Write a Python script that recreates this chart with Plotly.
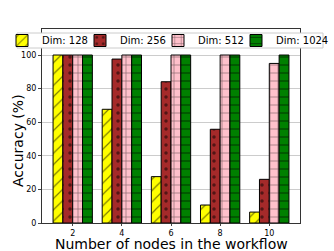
import plotly.graph_objects as go

nodes = [2, 4, 6, 8, 10]
dim128 = [100, 67.7, 27.6, 10.7, 6.5]
dim256 = [100, 97.6, 84.1, 55.8, 26.0]
dim512 = [100, 100, 100, 100, 95.0]
dim1024 = [100, 100, 100, 100, 100]

series = [
    ("Dim: 128", dim128, "#ffff00", "/"),
    ("Dim: 256", dim256, "#a52a2a", "."),
    ("Dim: 512", dim512, "#ffc0cb", "+"),
    ("Dim: 1024", dim1024, "#008000", "-"),
]

# pixel geometry helpers (plot area: x 42..300, y 29..223 ; value 0 at y=223)
L, R, B = 42, 300, 223
PW, PH = R - L, 194
def px(x):
    return (x - L) / PW
def py(y):
    return (B - y) / PH

legend_text_x = [40, 118, 196, 274]

fig = go.Figure()
layout_legends = {}
for i, (name, vals, col, shape) in enumerate(series):
    lname = "legend" if i == 0 else f"legend{i+1}"
    fig.add_trace(go.Bar(
        x=nodes, y=vals, name=name, legend=lname,
        marker=dict(color=col, line=dict(color="black", width=1),
                    pattern=dict(shape=shape, fgcolor="black", bgcolor=col,
                                 size=8, solidity=0.15, fillmode="overlay")),
    ))
    layout_legends[lname] = dict(
        orientation="h", x=px(legend_text_x[i] - 38), xanchor="left",
        y=py(40.5), yanchor="middle", bgcolor="rgba(0,0,0,0)", borderwidth=0,
        font=dict(size=10), itemwidth=30)

fig.add_shape(type="rect", xref="paper", yref="paper",
              x0=px(17), x1=px(323), y0=py(48), y1=py(33),
              line=dict(color="#cccccc", width=1), fillcolor="white", layer="above")

fig.add_annotation(text="Number of nodes in the workflow", xref="paper", yref="paper",
                   x=0.5, y=py(253), xanchor="center", yanchor="bottom",
                   showarrow=False, font=dict(size=14), borderpad=0)
fig.add_annotation(text="Accuracy (%)", xref="paper", yref="paper",
                   x=px(18), y=py(141), xanchor="center", yanchor="middle",
                   textangle=-90, showarrow=False, font=dict(size=14))

fig.update_layout(
    width=334, height=251,
    margin=dict(l=42, r=34, t=29, b=28, autoexpand=False),
    paper_bgcolor="white", plot_bgcolor="white",
    barmode="group", bargap=0.2, bargroupgap=0,
    font=dict(family="DejaVu Sans", color="black"),
    showlegend=True,
    xaxis=dict(range=[0.75, 11.25], tickvals=nodes, ticks="outside", ticklen=2,
               tickfont=dict(size=8), showgrid=False, zeroline=False,
               showline=True, linecolor="#333333", mirror=True, linewidth=1),
    yaxis=dict(range=[0, 115.5], tickvals=[0, 20, 40, 60, 80, 100], ticks="outside", ticklen=3,
               tickfont=dict(size=8), showgrid=True, gridcolor="#cccccc", zeroline=False,
               showline=True, linecolor="#333333", mirror=True, linewidth=1),
    **layout_legends,
)

fig.write_html("out.html", config={"displayModeBar": False},
               post_script="document.body.style.margin='0px';")
